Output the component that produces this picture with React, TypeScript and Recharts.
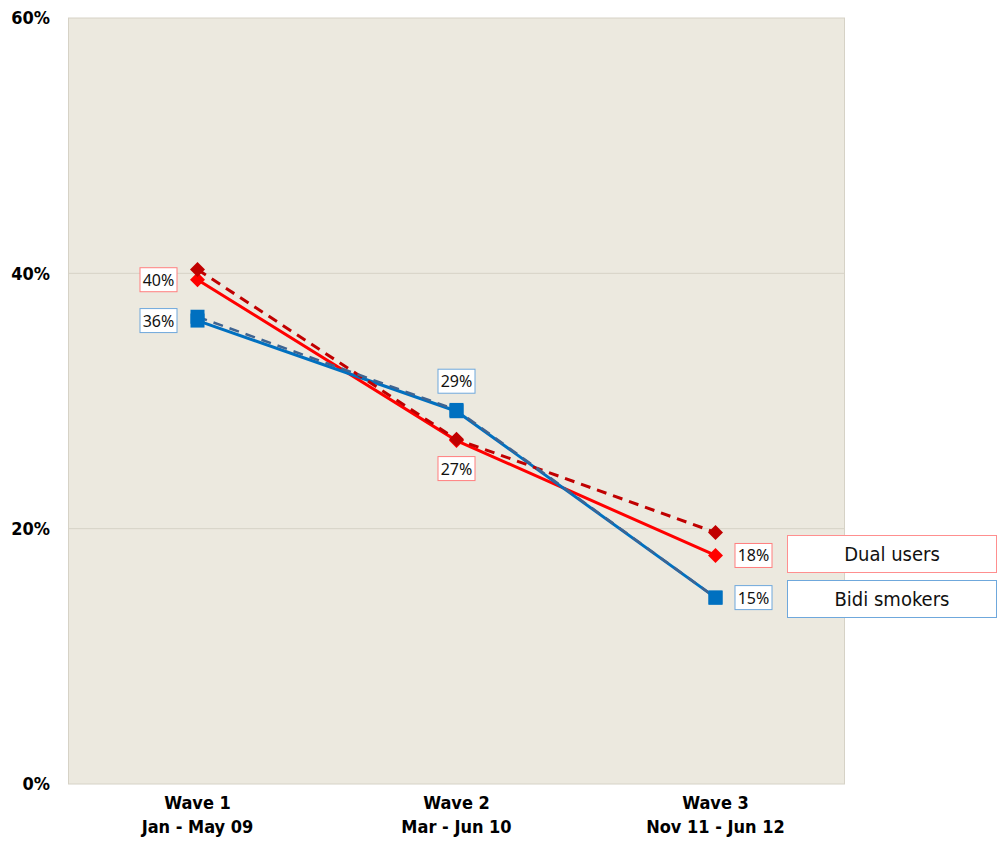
import { LineChart, Line, XAxis, YAxis, CartesianGrid, LabelList } from "recharts"

const waves = ["Wave 1", "Wave 2", "Wave 3"]
const periods = ["Jan - May 09", "Mar - Jun 10", "Nov 11 - Jun 12"]

const dualUsers = [39.5, 26.9, 17.9]
const dualUsersTrend = [40.3, 27.0, 19.7]
const bidiSmokers = [36.3, 29.2, 14.6]
const bidiSmokersTrend = [36.6, 29.3, 14.6]

const yTicks = [0, 20, 40, 60]

const data = waves.map((w, i) => ({
    wave: w,
    period: periods[i],
    dual: dualUsers[i],
    dualTrend: dualUsersTrend[i],
    bidi: bidiSmokers[i],
    bidiTrend: bidiSmokersTrend[i]
}))

const RED = "#FF0000"
const DARK_RED = "#C00000"
const BLUE = "#0070C0"
const DARK_BLUE = "#3F6491"

// where each value box sits relative to its point
const dualPlace = ["left", "bottom", "right"]
const bidiPlace = ["left", "top", "right"]

function Diamond(props: any) {
    const { cx, cy, fill } = props
    if (cx == null || cy == null) return null
    const r = 7.5
    return <path d={`M${cx},${cy - r}L${cx + r},${cy}L${cx},${cy + r}L${cx - r},${cy}Z`} fill={fill} />
}

function Square(props: any) {
    const { cx, cy, fill } = props
    if (cx == null || cy == null) return null
    return <rect x={cx - 7} y={cy - 7} width={14} height={14} fill={fill} />
}

function makeValueBox(place: string[], border: string) {
    return (props: any) => {
        const { x, y, value, index } = props
        const p = place[index]
        let cx = x, cy = y
        if (p === "left") cx = x - 39
        if (p === "right") cx = x + 38
        if (p === "top") cy = y - 30
        if (p === "bottom") cy = y + 28
        return (
            <g>
                <rect x={cx - 18.5} y={cy - 12} width={37} height={24} fill="#fff" stroke={border} strokeWidth={1} />
                <text x={cx} y={cy + 6} textAnchor="middle" fontSize={16} fontFamily="'Noto Sans', sans-serif" fill="#111">
                    {Math.round(value)}%
                </text>
            </g>
        )
    }
}

function WaveTick(props: any) {
    const { x, y, payload, index } = props
    return (
        <text x={x} y={y} textAnchor="middle" fontSize={18} fontWeight="bold" fontFamily="'DejaVu Sans Condensed', 'DejaVu Sans', sans-serif" fill="#000">
            <tspan x={x} dy={17}>{payload.value}</tspan>
            <tspan x={x} dy={24}>{periods[index]}</tspan>
        </text>
    )
}

const seriesBoxes = [
    { name: "Dual users", border: "#FF8F8F" },
    { name: "Bidi smokers", border: "#6FA8DC" }
]

export default function App() {
    return (
        <div style={{ position: "absolute", left: 0, top: 0, width: 997, height: 848, background: "#fff" }}>
            <LineChart width={997} height={848} data={data} margin={{ top: 18, right: 152, bottom: 4, left: 8 }}>
                <CartesianGrid fill="#ECE9DF" stroke="#D6D2C6" verticalPoints={[68.5, 844.5]} />
                <XAxis dataKey="wave" height={60} axisLine={false} tickLine={false} tick={<WaveTick />} interval={0}
                    padding={{ left: 129.5, right: 129.5 }} />
                <YAxis domain={[0, 60]} ticks={yTicks} width={60} axisLine={false} tickLine={false}
                    tickFormatter={(v: number) => `${v}%`} tickMargin={12}
                    tick={{ fontSize: 18, fontWeight: "bold", fill: "#000", fontFamily: "'DejaVu Sans Condensed', 'DejaVu Sans', sans-serif" }} />
                <Line dataKey="dual" name="Dual users" stroke={RED} strokeWidth={3} dot={<Diamond fill={RED} />} isAnimationActive={false}>
                    <LabelList dataKey="dual" content={makeValueBox(dualPlace, "#FF7F7F")} />
                </Line>
                <Line dataKey="bidi" name="Bidi smokers" stroke={BLUE} strokeWidth={3} dot={<Square fill={BLUE} />} isAnimationActive={false}>
                    <LabelList dataKey="bidi" content={makeValueBox(bidiPlace, "#6FA8DC")} />
                </Line>
                <Line dataKey="dualTrend" stroke={DARK_RED} strokeWidth={3} strokeDasharray="10 7" dot={<Diamond fill={DARK_RED} />} isAnimationActive={false} />
                <Line dataKey="bidiTrend" stroke={DARK_BLUE} strokeWidth={2.5} strokeDasharray="10 7" dot={<Square fill={BLUE} />} isAnimationActive={false} />
            </LineChart>
            <div style={{ position: "absolute", left: 787, top: 535, width: 210 }}>
                {seriesBoxes.map((it, i) => (
                    <div key={it.name} style={{
                        width: 210, height: 38, boxSizing: "border-box", border: `1.5px solid ${it.border}`,
                        background: "#fff", marginBottom: i === 0 ? 7 : 0, display: "flex", alignItems: "center",
                        justifyContent: "center", fontSize: 20, fontFamily: "'DejaVu Sans Condensed', 'DejaVu Sans', sans-serif", color: "#111"
                    }}>{it.name}</div>
                ))}
            </div>
        </div>
    )
}
